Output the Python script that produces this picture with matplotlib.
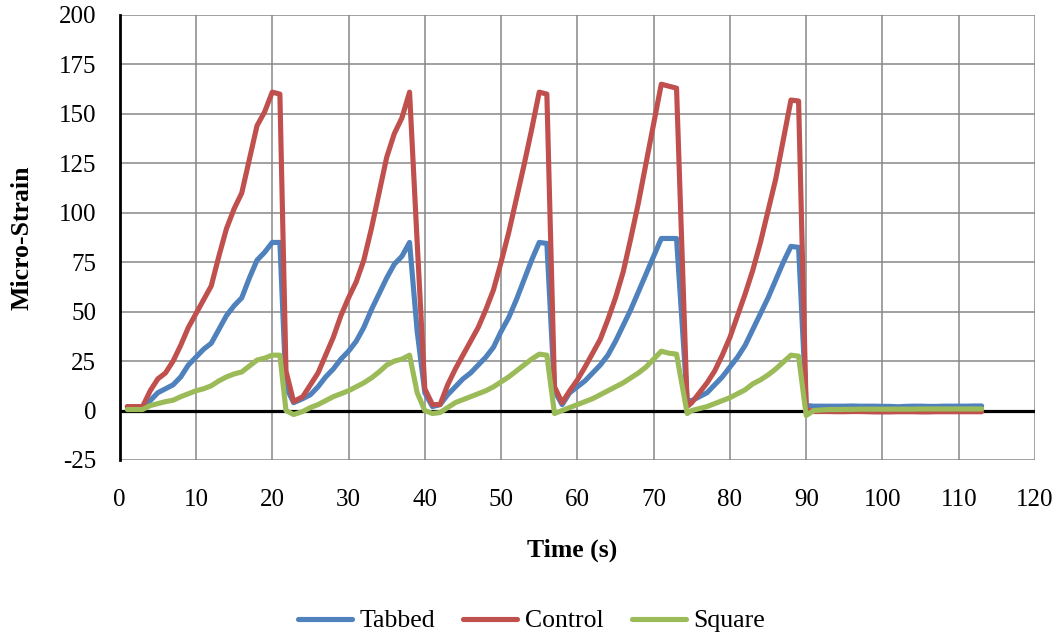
import matplotlib
matplotlib.use("Agg")
import matplotlib.pyplot as plt
from matplotlib.lines import Line2D

# Sample times (s)
time_s = [1, 2, 3, 4, 5, 6, 7, 8, 9, 10, 11, 12, 13, 14, 15, 16, 17, 18, 19, 20,
          21, 21.8, 22.8, 24, 25, 26, 27, 28, 29, 30, 31, 32, 33, 34, 35, 36, 37, 38,
          39, 40, 41, 42, 43, 44, 45, 46, 47, 48, 49, 50, 51, 52, 53, 54, 55, 56,
          57, 58, 59, 60, 61, 62, 63, 64, 65, 66, 67, 68, 69, 70, 71, 72, 73, 74.4,
          75, 76, 77, 78, 79, 80, 81, 82, 83, 84, 85, 86, 87, 88, 89, 90, 91, 92,
          93, 94, 95, 96, 97, 98, 99, 100, 101, 102, 103, 104, 105, 106, 107, 108,
          109, 110, 111, 112, 113]

tabbed = [2, 2, 2, 5, 9, 11, 13, 17, 23, 27, 31, 34, 41, 48, 53, 57, 67, 76, 80, 85,
          85, 12, 4, 6, 8, 12, 17, 21, 26, 30, 35, 42, 51, 59, 67, 74, 78, 85,
          40, 9, 2, 3, 8, 12, 16, 19, 23, 27, 32, 40, 47, 56, 66, 76, 85, 84.5,
          10, 3, 9, 12, 15, 19, 23, 28, 35, 43, 51, 60, 69, 78, 87, 87, 87, 5,
          5, 7, 9, 13, 17, 22, 27, 33, 41, 49, 57, 66, 75, 83, 82.5, 2.5, 2.2, 2.2,
          2.2, 2.2, 2.2, 2.3, 2.2, 2.2, 2.2, 2.1, 2.1, 1.9, 2.1, 2.2, 2.2, 2.1, 2.1, 2.2,
          2.2, 2.2, 2.2, 2.3, 2.3]

control = [2, 2, 2, 10, 16, 19, 25, 33, 42, 49, 56, 63, 78, 92, 102, 110, 127, 144, 151, 161,
           160, 20, 4.5, 7, 13, 19, 28, 37, 48, 57, 65, 76, 92, 110, 128, 140, 148, 161,
           85, 11, 3, 3, 13, 21, 28, 35, 42, 51, 61, 75, 90, 107, 124, 142, 161, 160,
           12, 4, 10, 15.5, 22, 29, 36, 46, 57, 70, 87, 105, 125, 145, 165, 164, 163, 2,
           4, 9, 14, 20, 28, 37, 48, 59, 71, 85, 101, 117, 137, 157, 156.5, 0.5, -0.5, -0.5,
           -0.5, -0.6, -0.6, -0.5, -0.5, -0.6, -0.7, -0.7, -0.7, -0.6, -0.6, -0.6, -0.7, -0.7, -0.6, -0.6,
           -0.6, -0.6, -0.6, -0.6, -0.6]

square = [0.5, 0.5, 0.5, 2.5, 3.5, 4.5, 5.2, 7, 8.5, 10, 11, 12.5, 15, 17, 18.5, 19.5, 22.5, 25.5, 26.5, 28,
          28, 0, -2, -0.5, 1.5, 3, 5, 7, 8.5, 10, 12, 14, 16.5, 19.5, 23, 25, 26, 28,
          9, 0, -1.5, -1, 1.5, 4, 5.5, 7, 8.5, 10, 12, 14.5, 17, 20, 23, 26, 28.5, 28,
          -1.5, 0, 1.5, 3, 4.5, 6, 8, 10, 12, 14, 16.5, 19, 22, 26, 30, 29, 28.5, -1.5,
          0, 1, 2, 3.5, 5, 6.5, 8.5, 10.5, 13.5, 15.5, 18, 21, 24.5, 28, 27.5, -2.5, 0, 0.3,
          0.5, 0.5, 0.6, 0.6, 0.7, 0.7, 0.7, 0.7, 0.7, 0.7, 0.7, 0.7, 0.8, 0.8, 0.8, 0.8,
          0.8, 0.8, 0.8, 0.8, 0.8]

series_names = ["Tabbed", "Control", "Square"]
series_colors = ["#4F81BD", "#C0504D", "#9BBB59"]

x_ticks = list(range(0, 121, 10))
y_ticks = list(range(-25, 201, 25))

plt.rcParams["font.family"] = ["Liberation Serif", "DejaVu Serif"]
plt.rcParams["axes.unicode_minus"] = False

fig = plt.figure(figsize=(10.63, 6.41), dpi=100)
ax = fig.add_axes([0.1126, 0.2824, 0.8611, 0.6942])

for values, name, color in zip([tabbed, control, square], series_names, series_colors):
    ax.plot(time_s, values, color=color, lw=3.7, label=name,
            solid_joinstyle="round", solid_capstyle="round", zorder=3)

ax.set_xlim(0, 120)
ax.set_ylim(-25, 200)
ax.set_xticks(x_ticks)
ax.set_yticks(y_ticks)
ax.grid(True, color="#878787", lw=1.1, zorder=0)
ax.axhline(0, color="black", lw=2.3, zorder=2)

for side in ["top", "right", "bottom"]:
    ax.spines[side].set_visible(False)
ax.spines["left"].set_color("black")
ax.spines["left"].set_linewidth(2.0)
ax.spines["left"].set_zorder(4)

ax.tick_params(axis="both", length=0, labelsize=18)
ax.tick_params(axis="x", pad=21)
ax.tick_params(axis="y", pad=17)

fig.text(22 / 1063, 1 - 238 / 641, "Micro-Strain", rotation=90, ha="center", va="center",
         fontsize=18.5, fontweight="bold")
fig.text(572 / 1063, 1 - 550 / 641, "Time (s)", ha="center", va="center",
         fontsize=18.5, fontweight="bold")

handles = [Line2D([], [], color=c, lw=3.7, solid_capstyle="round") for c in series_colors]
fig.legend(handles, series_names, loc="center", bbox_to_anchor=(0.5, 1 - 621 / 641),
           ncol=3, frameon=False, fontsize=18.5, handlelength=2.1, handletextpad=0.3,
           columnspacing=1.1)

fig.savefig("out.png", dpi=100)
